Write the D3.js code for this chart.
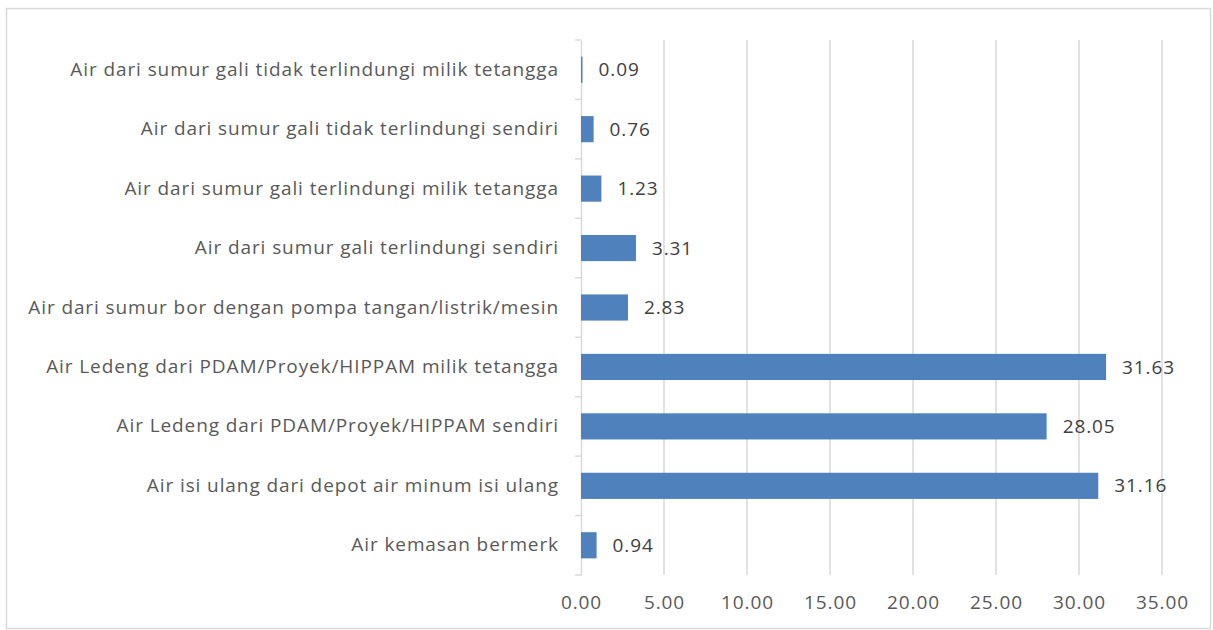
<!DOCTYPE html>
<html>
<head>
<meta charset="utf-8">
<script src="https://cdn.jsdelivr.net/npm/d3@7"></script>
<style>
  body { margin: 0; background: #fff; }
  text { font-family: "Open Sans", "Liberation Sans", Arial, sans-serif; letter-spacing: 0.9px; }
</style>
</head>
<body>
<svg width="1213" height="630"></svg>
<script>
const categories = [
    'Air dari sumur gali tidak terlindungi milik tetangga',
    'Air dari sumur gali tidak terlindungi sendiri',
    'Air dari sumur gali terlindungi milik tetangga',
    'Air dari sumur gali terlindungi sendiri',
    'Air dari sumur bor dengan pompa tangan/listrik/mesin',
    'Air Ledeng dari PDAM/Proyek/HIPPAM milik tetangga',
    'Air Ledeng dari PDAM/Proyek/HIPPAM sendiri',
    'Air isi ulang dari depot air minum isi ulang',
    'Air kemasan bermerk'
];
const values = [0.09, 0.76, 1.23, 3.31, 2.83, 31.63, 28.05, 31.16, 0.94];
const xTicks = [0, 5, 10, 15, 20, 25, 30, 35];

const data = categories.map((c, i) => ({ name: c, value: values[i] }));

const svg = d3.select('svg'),
    width = +svg.attr('width'),
    height = +svg.attr('height');

// chart border
svg.append('rect')
    .attr('x', 6.5)
    .attr('y', 8.5)
    .attr('width', width - 9)
    .attr('height', height - 10)
    .attr('fill', '#fff')
    .attr('stroke', '#d9d9d9')
    .attr('stroke-width', 1.5);

const plotTop = 40, plotBottom = 575;
const x = d3.scaleLinear().domain([0, 35]).range([581, 1162]);
const y = d3.scaleBand().domain(categories).range([plotTop, plotBottom]).paddingInner(0.56).paddingOuter(0.28);

// gridlines
svg.append('g')
    .attr('class', 'grid')
    .selectAll('line')
    .data(xTicks.slice(1))
    .enter()
    .append('line')
    .attr('x1', d => x(d))
    .attr('x2', d => x(d))
    .attr('y1', plotTop)
    .attr('y2', plotBottom)
    .attr('stroke', '#d9d9d9')
    .attr('stroke-width', 1.5);

// x axis labels
const xAxis = svg.append('g')
    .attr('transform', `translate(0,${plotBottom})`)
    .call(d3.axisBottom(x).tickValues(xTicks).tickFormat(d3.format('.2f')).tickSize(0).tickPadding(21));
xAxis.select('.domain').remove();
xAxis.selectAll('text')
    .attr('fill', '#595959')
    .style('font-size', '19px');

// y axis
const yAxis = svg.append('g')
    .attr('transform', `translate(${x(0)},0)`)
    .call(d3.axisLeft(y).tickSize(0).tickPadding(22));
yAxis.select('.domain')
    .attr('stroke', '#d9d9d9')
    .attr('stroke-width', 1.5);
yAxis.selectAll('text')
    .attr('fill', '#595959')
    .style('font-size', '19px');

// band boundary ticks
const bandStep = (plotBottom - plotTop) / categories.length;
svg.append('g')
    .selectAll('line')
    .data(d3.range(categories.length + 1))
    .enter()
    .append('line')
    .attr('x1', x(0) - 6)
    .attr('x2', x(0))
    .attr('y1', i => plotTop + i * bandStep)
    .attr('y2', i => plotTop + i * bandStep)
    .attr('stroke', '#d9d9d9')
    .attr('stroke-width', 1.5);

// bars
svg.append('g')
    .selectAll('rect')
    .data(data)
    .enter()
    .append('rect')
    .attr('x', x(0))
    .attr('y', d => y(d.name))
    .attr('width', d => x(d.value) - x(0))
    .attr('height', y.bandwidth())
    .attr('fill', '#4f81bd');

// value labels
svg.append('g')
    .selectAll('text')
    .data(data)
    .enter()
    .append('text')
    .attr('x', d => x(d.value) + 16)
    .attr('y', d => y(d.name) + y.bandwidth() / 2)
    .attr('dy', '0.35em')
    .attr('fill', '#404040')
    .style('font-size', '19px')
    .text(d => d3.format('.2f')(d.value));
</script>
</body>
</html>
